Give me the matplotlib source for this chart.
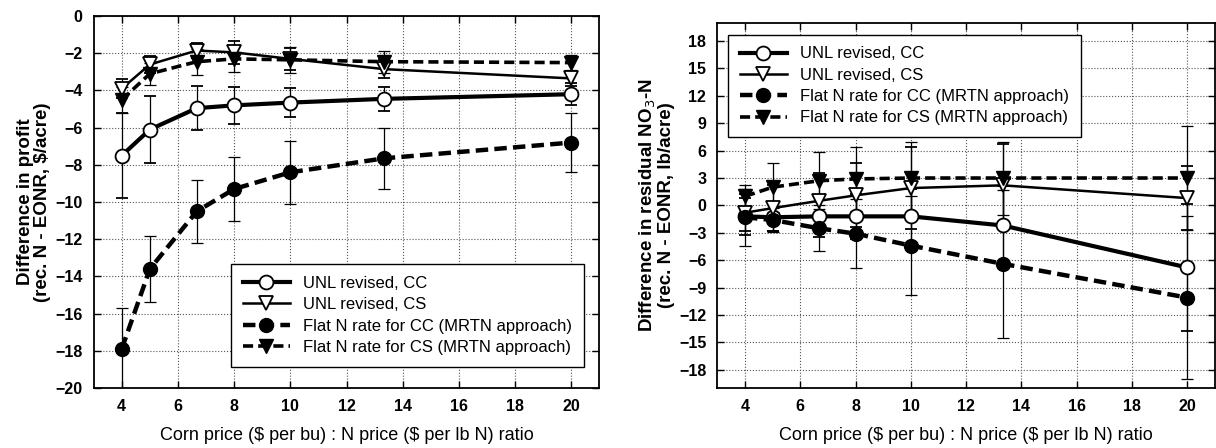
import numpy as np
import matplotlib
matplotlib.use('Agg')
import matplotlib.pyplot as plt

plt.rcParams['font.family'] = ['Liberation Sans', 'DejaVu Sans']

# price ratio
ratio = [4, 5, 6.67, 8, 10, 13.33, 20]

# difference in profit, $/acre
profit_unl_cc = [-7.5, -6.1, -4.95, -4.8, -4.65, -4.45, -4.2]
profit_unl_cc_err = [2.3, 1.8, 1.2, 1.0, 0.8, 0.65, 0.6]
profit_unl_cs = [-3.9, -2.6, -1.85, -1.95, -2.3, -2.85, -3.35]
profit_unl_cs_err = [0.5, 0.45, 0.4, 0.6, 0.6, 0.5, 0.4]
profit_flat_cc = [-17.9, -13.6, -10.5, -9.3, -8.4, -7.65, -6.8]
profit_flat_cc_err = [2.2, 1.8, 1.7, 1.7, 1.7, 1.65, 1.6]
profit_flat_cs = [-4.5, -3.1, -2.45, -2.3, -2.35, -2.45, -2.5]
profit_flat_cs_err = [0.7, 0.6, 0.7, 0.7, 0.7, 0.6, 0.4]

# difference in residual NO3-N, lb/acre
no3_unl_cc = [-1.2, -1.3, -1.2, -1.2, -1.2, -2.2, -6.8]
no3_unl_cc_err = [2.0, 1.5, 2.3, 2.5, 3.0, 4.3, 7.0]
no3_unl_cs = [-0.8, -0.3, 0.5, 1.1, 1.9, 2.2, 0.8]
no3_unl_cs_err = [2.0, 2.5, 3.0, 3.5, 4.5, 4.5, 3.5]
no3_flat_cc = [-1.3, -1.6, -2.5, -3.1, -4.4, -6.4, -10.1]
no3_flat_cc_err = [3.1, 1.3, 2.5, 3.8, 5.4, 8.1, 8.9]
no3_flat_cs = [1.0, 2.0, 2.7, 2.9, 3.0, 3.0, 3.0]
no3_flat_cs_err = [1.2, 2.7, 3.1, 3.5, 4.0, 4.0, 5.7]

labels = ['UNL revised, CC', 'UNL revised, CS',
          'Flat N rate for CC (MRTN approach)', 'Flat N rate for CS (MRTN approach)']

styles = [
    dict(ls='-', lw=3.0, marker='o', ms=10, mfc='white', mec='black', mew=1.3),
    dict(ls='-', lw=1.8, marker='v', ms=10, mfc='white', mec='black', mew=1.3),
    dict(ls=(0, (2.8, 1.4)), lw=3.2, marker='o', ms=10, mfc='black', mec='black'),
    dict(ls=(0, (2.8, 1.4)), lw=2.6, marker='v', ms=10, mfc='black', mec='black'),
]


def draw(ax, series):
    handles = []
    for (y, err), lab, st in zip(series, labels, styles):
        c = ax.errorbar(ratio, y, yerr=err, color='black', ecolor='black',
                        elinewidth=0.9, capsize=4, capthick=0.9, label=lab, **st)
        handles.append(c.lines[0])
    ax.set_xlim(3, 21)
    ax.set_xticks([4, 6, 8, 10, 12, 14, 16, 18, 20])
    ax.grid(True, ls=':', lw=0.8, color='#555555')
    ax.tick_params(direction='in', top=True, right=True, length=5, width=1,
                   labelsize=11.5, pad=8)
    for t in ax.get_xticklabels() + ax.get_yticklabels():
        t.set_fontweight('bold')
    for s in ax.spines.values():
        s.set_linewidth(1.3)
    ax.set_xlabel(r'Corn price (\$ per bu) : N price (\$ per lb N) ratio',
                  fontsize=13, labelpad=9)
    return handles


leg_kw = dict(fontsize=12, fancybox=False, edgecolor='black', framealpha=1,
              handlelength=2.8, borderpad=0.7, labelspacing=0.38)

fig = plt.figure(figsize=(12.16, 4.48), dpi=100)
ax1 = fig.add_axes([0.077, 0.134, 0.416, 0.830])
ax2 = fig.add_axes([0.590, 0.134, 0.409, 0.815])

h1 = draw(ax1, [(profit_unl_cc, profit_unl_cc_err), (profit_unl_cs, profit_unl_cs_err),
                (profit_flat_cc, profit_flat_cc_err), (profit_flat_cs, profit_flat_cs_err)])
ax1.set_ylim(-20, 0)
ax1.set_yticks(np.arange(-20, 1, 2))
ax1.set_ylabel('Difference in profit\n' + r'(rec. N - EONR, \$/acre)',
               fontsize=13.5, fontweight='bold', labelpad=3, linespacing=1.0)
ax1.legend(h1, labels, loc='lower right', bbox_to_anchor=(0.985, 0.035), **leg_kw)

h2 = draw(ax2, [(no3_unl_cc, no3_unl_cc_err), (no3_unl_cs, no3_unl_cs_err),
                (no3_flat_cc, no3_flat_cc_err), (no3_flat_cs, no3_flat_cs_err)])
ax2.set_ylim(-20, 20)
ax2.set_yticks(np.arange(-18, 19, 3))
ax2.set_ylabel('Difference in residual NO$_3$-N\n(rec. N - EONR, lb/acre)',
               fontsize=13.5, fontweight='bold', labelpad=3, linespacing=1.0)
ax2.legend(h2, labels, loc='upper left', bbox_to_anchor=(0.005, 0.99), **leg_kw)

fig.savefig('out.png', dpi=100)
